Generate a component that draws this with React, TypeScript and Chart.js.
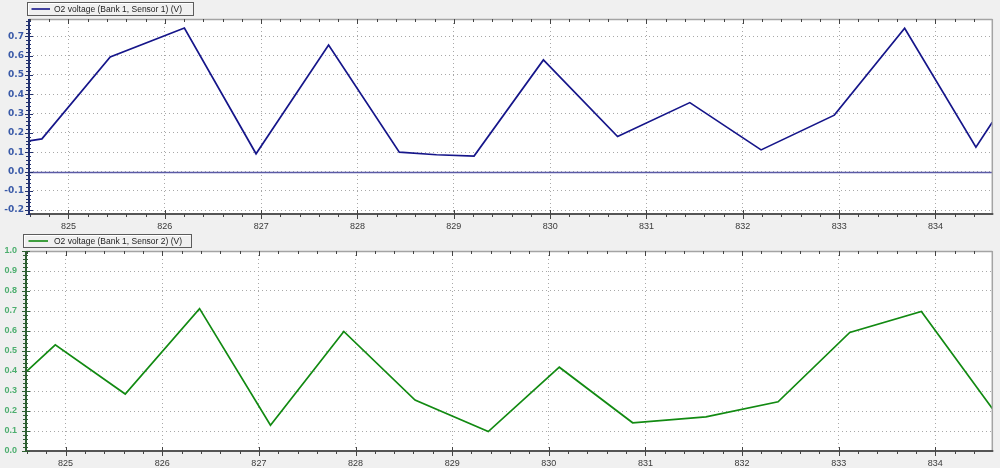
import React, { useEffect, useRef } from "react";
import { Chart, registerables } from "chart.js";

Chart.register(...registerables);

// ---- data ----
const xMin = 824.59;
const xMax = 834.59;
const xTickValues = [825, 826, 827, 828, 829, 830, 831, 832, 833, 834];

const sensor1Label = "O2 voltage (Bank 1, Sensor 1) (V)";
const sensor1Time = [824.59, 824.724, 825.433, 826.203, 826.947, 827.7, 828.434, 828.82, 829.21, 829.93, 830.7, 831.45, 832.19, 832.95, 833.68, 834.42, 834.59];
const sensor1Volt = [0.159, 0.169, 0.593, 0.743, 0.092, 0.655, 0.1, 0.087, 0.08, 0.578, 0.181, 0.357, 0.112, 0.292, 0.742, 0.126, 0.255];
const sensor1YTicks = [-0.2, -0.1, 0, 0.1, 0.2, 0.3, 0.4, 0.5, 0.6, 0.7];
const topYRange = [-0.22, 0.79];

const sensor2Label = "O2 voltage (Bank 1, Sensor 2) (V)";
const sensor2Time = [824.59, 824.893, 825.617, 826.386, 827.12, 827.879, 828.616, 829.374, 830.109, 830.868, 831.626, 832.373, 833.115, 833.856, 834.59];
const sensor2Volt = [0.396, 0.531, 0.285, 0.712, 0.129, 0.598, 0.255, 0.097, 0.419, 0.141, 0.171, 0.246, 0.593, 0.698, 0.213];
const sensor2YTicks = [0, 0.1, 0.2, 0.3, 0.4, 0.5, 0.6, 0.7, 0.8, 0.9, 1.0];
const bottomYRange = [0, 1.0];

type PanelCfg = {
  label: string;
  times: number[];
  values: number[];
  yTicks: number[];
  color: string;
  yMin: number;
  yMax: number;
  height: number;
  yAxisWidth: number;
  xAxisHeight: number;
  yLabelColor: string;
  yLabelFont: { family: string; size: number; weight: any };
  yLabelPad: number;
  axisColor: string;
  zeroLine: boolean;
  legendBox: [number, number];
  legendLine: [number, number];
  legendText: number;
};

const framePlugin = {
  id: "frame",
  beforeDraw(chart: any) {
    const { ctx, chartArea: a } = chart;
    ctx.save();
    ctx.fillStyle = "#ffffff";
    ctx.fillRect(a.left, a.top, a.right - a.left, a.bottom - a.top);
    ctx.restore();
  },
  beforeDatasetsDraw(chart: any, _a: any, opts: any) {
    if (!opts.zeroLine) return;
    const { ctx, chartArea: a, scales } = chart;
    const y = Math.round(scales.y.getPixelForValue(0)) + 0.5;
    ctx.save();
    ctx.strokeStyle = "#5a5aa6";
    ctx.lineWidth = 1.5;
    ctx.beginPath();
    ctx.moveTo(a.left, y);
    ctx.lineTo(a.right, y);
    ctx.stroke();
    ctx.restore();
  },
  afterDatasetsDraw(chart: any, _a: any, opts: any) {
    const { ctx, chartArea: a, scales } = chart;
    const xs = scales.x;
    const ys = scales.y;
    const line = (x1: number, y1: number, x2: number, y2: number) => {
      ctx.beginPath();
      ctx.moveTo(x1, y1);
      ctx.lineTo(x2, y2);
      ctx.stroke();
    };
    ctx.save();
    // top and right border
    ctx.strokeStyle = "#a4a4a4";
    ctx.lineWidth = 1.5;
    line(a.left, a.top + 0.5, a.right, a.top + 0.5);
    line(a.right, a.top, a.right, a.bottom);
    // bottom axis
    ctx.strokeStyle = "#555555";
    ctx.lineWidth = 2;
    line(a.left, a.bottom, a.right + 1, a.bottom);
    // x ticks
    ctx.lineWidth = 1;
    ctx.strokeStyle = "#444444";
    for (let k = Math.ceil(xs.min * 5); k <= Math.floor(xs.max * 5); k++) {
      const v = k / 5;
      const major = k % 5 === 0;
      const px = Math.round(xs.getPixelForValue(v)) + 0.5;
      if (major) {
        line(px, a.bottom - 4, px, a.bottom + 5);
        line(px, a.top, px, a.top + 5);
      } else {
        line(px, a.bottom, px, a.bottom + 3);
        line(px, a.top, px, a.top + 3);
      }
    }
    // left axis
    ctx.strokeStyle = opts.axisColor;
    ctx.lineWidth = 2;
    line(a.left, a.top, a.left, a.bottom + 1);
    ctx.lineWidth = 1;
    for (let k = Math.ceil(ys.min * 50 - 1e-6); k <= Math.floor(ys.max * 50 + 1e-6); k++) {
      const v = k / 50;
      const major = k % 5 === 0;
      const py = Math.round(ys.getPixelForValue(v)) + 0.5;
      if (major) line(a.left - 4, py, a.left + 4, py);
      else line(a.left - 3, py, a.left + 2, py);
    }
    // legend box
    const [b0, b1] = opts.legendBox;
    const top = 2.5;
    const bottom = 15.5;
    const mid = 9;
    ctx.strokeStyle = "#5c5c5c";
    ctx.lineWidth = 1;
    ctx.strokeRect(b0 + 0.5, top, b1 - b0, bottom - top);
    ctx.strokeStyle = "#ffffff";
    ctx.beginPath();
    ctx.moveTo(b0 + 1.5, bottom - 1);
    ctx.lineTo(b0 + 1.5, top + 1);
    ctx.lineTo(b1 - 0.5, top + 1);
    ctx.stroke();
    ctx.strokeStyle = opts.color;
    ctx.lineWidth = 1.6;
    line(opts.legendLine[0], mid, opts.legendLine[1], mid);
    ctx.fillStyle = "#222222";
    ctx.font = '8.5px "Liberation Sans", Arial, sans-serif';
    ctx.textBaseline = "middle";
    ctx.textAlign = "left";
    ctx.fillText(opts.label, opts.legendText, mid + 0.5);
    ctx.restore();
  },
};

const panels: PanelCfg[] = [
  {
    label: sensor1Label,
    times: sensor1Time,
    values: sensor1Volt,
    yTicks: sensor1YTicks,
    color: "#16168a",
    yMin: topYRange[0],
    yMax: topYRange[1],
    height: 232,
    yAxisWidth: 29,
    xAxisHeight: 18,
    yLabelColor: "#3a5aa8",
    yLabelFont: { family: "DejaVu Sans", size: 9, weight: "bold" },
    yLabelPad: 5,
    axisColor: "#22306e",
    zeroLine: true,
    legendBox: [27, 193],
    legendLine: [31.5, 50],
    legendText: 54,
  },
  {
    label: sensor2Label,
    times: sensor2Time,
    values: sensor2Volt,
    yTicks: sensor2YTicks,
    color: "#128a12",
    yMin: bottomYRange[0],
    yMax: bottomYRange[1],
    height: 236,
    yAxisWidth: 26,
    xAxisHeight: 17,
    yLabelColor: "#4cae6e",
    yLabelFont: { family: "Liberation Sans", size: 9, weight: "bold" },
    yLabelPad: 9,
    axisColor: "#2f5f32",
    zeroLine: false,
    legendBox: [23, 191],
    legendLine: [28.5, 48],
    legendText: 54,
  },
];

function Panel({ cfg, top }: { cfg: PanelCfg; top: number }) {
  const ref = useRef<HTMLCanvasElement | null>(null);
  useEffect(() => {
    if (!ref.current) return;
    const chart = new Chart(ref.current, {
      type: "line",
      data: {
        datasets: [
          {
            label: cfg.label,
            data: cfg.times.map((t, i) => ({ x: t, y: cfg.values[i] })),
            borderColor: cfg.color,
            backgroundColor: cfg.color,
            borderWidth: 1.7,
            pointRadius: 0,
            tension: 0,
            fill: false,
          },
        ],
      },
      options: {
        responsive: false,
        animation: false,
        devicePixelRatio: 1,
        layout: { padding: { top: 19, right: 7.7, left: 0, bottom: 0 } },
        plugins: {
          legend: { display: false },
          tooltip: { enabled: false },
          frame: {
            zeroLine: cfg.zeroLine,
            axisColor: cfg.axisColor,
            legendBox: cfg.legendBox,
            legendLine: cfg.legendLine,
            legendText: cfg.legendText,
            label: cfg.label,
            color: cfg.color,
          },
        } as any,
        scales: {
          x: {
            type: "linear",
            bounds: "data",
            min: xMin,
            max: xMax,
            afterBuildTicks: (s: any) => {
              s.ticks = xTickValues.map((v) => ({ value: v }));
            },
            afterFit: (s: any) => {
              s.height = cfg.xAxisHeight;
            },
            ticks: {
              autoSkip: false,
              maxRotation: 0,
              padding: 7,
              color: "#3a3a3a",
              font: { family: "Liberation Sans", size: 9 },
              callback: (v: any) => String(Math.round(Number(v))),
            },
            grid: { color: "#a8a8a8", lineWidth: 1, drawTicks: false },
            border: { display: false, dash: [1, 3] },
          },
          y: {
            type: "linear",
            bounds: "data",
            min: cfg.yMin,
            max: cfg.yMax,
            afterBuildTicks: (s: any) => {
              s.ticks = cfg.yTicks.map((v) => ({ value: v }));
            },
            afterFit: (s: any) => {
              s.width = cfg.yAxisWidth;
            },
            ticks: {
              autoSkip: false,
              padding: cfg.yLabelPad,
              color: cfg.yLabelColor,
              font: cfg.yLabelFont,
              callback: (v: any) => Number(v).toFixed(1),
            },
            grid: { color: "#a8a8a8", lineWidth: 1, drawTicks: false },
            border: { display: false, dash: [1, 3] },
          },
        },
      } as any,
      plugins: [framePlugin],
    });
    return () => chart.destroy();
  }, [cfg]);
  return (
    <canvas
      ref={ref}
      width={1000}
      height={cfg.height}
      style={{ position: "absolute", left: 0, top, display: "block", width: 1000, height: cfg.height }}
    />
  );
}

export default function App() {
  return (
    <div
      style={{
        position: "fixed",
        left: 0,
        top: 0,
        width: 1000,
        height: 468,
        background: "#f0f0f0",
        overflow: "hidden",
      }}
    >
      <Panel cfg={panels[0]} top={0} />
      <Panel cfg={panels[1]} top={232} />
    </div>
  );
}
